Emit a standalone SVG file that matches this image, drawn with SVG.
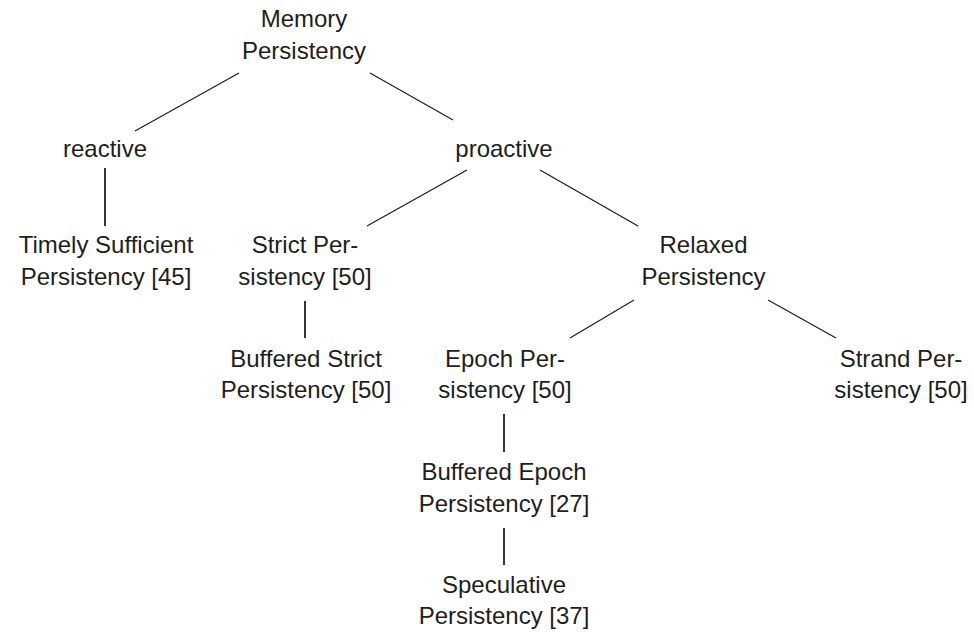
<svg xmlns="http://www.w3.org/2000/svg" width="974" height="632" viewBox="0 0 974 632">
  <style>
    .label { font-family: "Liberation Sans", "DejaVu Sans", sans-serif; font-size: 24px; fill: #1e1e1e; text-anchor: middle; }
    .edge { stroke: #1e1e1e; stroke-width: 1.2; fill: none; stroke-linecap: butt; }
    .vedge { stroke: #1e1e1e; stroke-width: 1.8; fill: none; }
  </style>
  <rect width="974" height="632" fill="#ffffff"/>

  <!-- tree edges -->
  <g id="connectors">
    <line class="edge" x1="239" y1="73" x2="135" y2="131"/>
    <line class="edge" x1="370" y1="73" x2="453" y2="120"/>
    <line class="vedge" x1="105" y1="168" x2="105" y2="226"/>
    <line class="edge" x1="467" y1="170" x2="367" y2="226"/>
    <line class="edge" x1="540" y1="170" x2="638" y2="226"/>
    <line class="vedge" x1="305" y1="301" x2="305" y2="338"/>
    <line class="edge" x1="634" y1="300" x2="570" y2="338"/>
    <line class="edge" x1="768" y1="300" x2="836" y2="338"/>
    <line class="vedge" x1="504" y1="414" x2="504" y2="452"/>
    <line class="vedge" x1="504" y1="528" x2="504" y2="565"/>
  </g>

  <!-- nodes -->
  <g id="memory-persistency">
    <text class="label" x="304" y="27">Memory</text>
    <text class="label" x="304" y="59">Persistency</text>
  </g>
  <g id="reactive">
    <text class="label" x="105" y="157">reactive</text>
  </g>
  <g id="proactive">
    <text class="label" x="504" y="157">proactive</text>
  </g>
  <g id="timely-sufficient">
    <text class="label" x="106" y="253">Timely Sufficient</text>
    <text class="label" x="106" y="285">Persistency [45]</text>
  </g>
  <g id="strict">
    <text class="label" x="305" y="253">Strict Per-</text>
    <text class="label" x="305" y="285">sistency [50]</text>
  </g>
  <g id="relaxed">
    <text class="label" x="703.5" y="253">Relaxed</text>
    <text class="label" x="703.5" y="285">Persistency</text>
  </g>
  <g id="buffered-strict">
    <text class="label" x="306" y="367">Buffered Strict</text>
    <text class="label" x="306" y="398">Persistency [50]</text>
  </g>
  <g id="epoch">
    <text class="label" x="505" y="367">Epoch Per-</text>
    <text class="label" x="505" y="398">sistency [50]</text>
  </g>
  <g id="strand">
    <text class="label" x="901" y="367">Strand Per-</text>
    <text class="label" x="901" y="398">sistency [50]</text>
  </g>
  <g id="buffered-epoch">
    <text class="label" x="504" y="480">Buffered Epoch</text>
    <text class="label" x="504" y="512">Persistency [27]</text>
  </g>
  <g id="speculative">
    <text class="label" x="504" y="593">Speculative</text>
    <text class="label" x="504" y="624">Persistency [37]</text>
  </g>
</svg>
